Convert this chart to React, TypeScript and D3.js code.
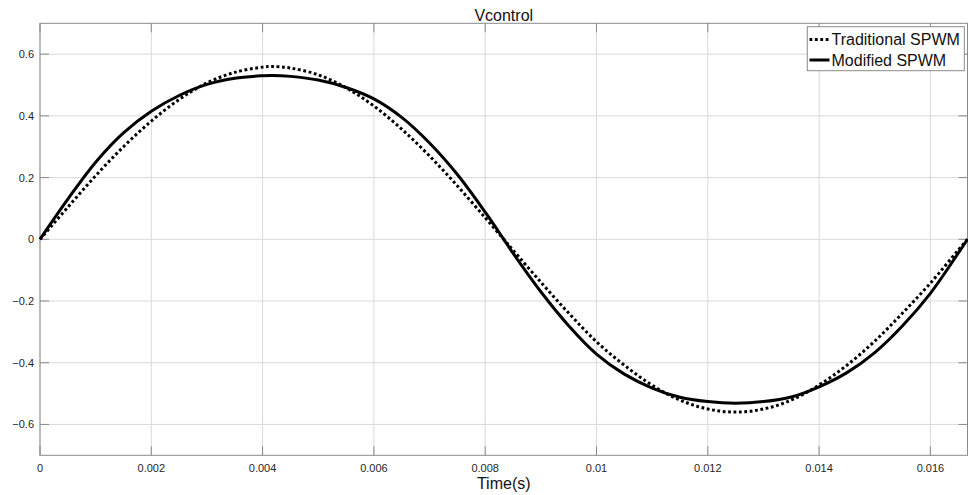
import React from "react";
import * as d3 from "d3";

const timeS = [0, 0.0005, 0.001, 0.0015, 0.002, 0.0025, 0.003, 0.0035, 0.004, 0.004167, 0.0045, 0.005, 0.0055, 0.006, 0.0065, 0.007, 0.0075, 0.008, 0.008333, 0.0085, 0.009, 0.0095, 0.01, 0.0105, 0.011, 0.0115, 0.012, 0.0125, 0.013, 0.0135, 0.014, 0.0145, 0.015, 0.0155, 0.016, 0.0165, 0.016667];
const traditional = [0, 0.104, 0.206, 0.3, 0.383, 0.453, 0.507, 0.541, 0.558, 0.56, 0.555, 0.533, 0.491, 0.432, 0.357, 0.27, 0.173, 0.07, 0, -0.035, -0.139, -0.239, -0.332, -0.408, -0.473, -0.521, -0.55, -0.56, -0.55, -0.521, -0.472, -0.408, -0.33, -0.239, -0.142, -0.035, 0];
const modified = [0, 0.13, 0.25, 0.345, 0.415, 0.466, 0.502, 0.522, 0.53, 0.531, 0.528, 0.516, 0.492, 0.455, 0.395, 0.312, 0.21, 0.088, 0, -0.045, -0.17, -0.28, -0.372, -0.437, -0.482, -0.512, -0.526, -0.531, -0.526, -0.511, -0.478, -0.432, -0.367, -0.28, -0.175, -0.045, 0];
const xTicks = [0, 0.002, 0.004, 0.006, 0.008, 0.01, 0.012, 0.014, 0.016];
const xTickLabels = ["0", "0.002", "0.004", "0.006", "0.008", "0.01", "0.012", "0.014", "0.016"];
const yTicks = [-0.6, -0.4, -0.2, 0, 0.2, 0.4, 0.6];
const yTickLabels = ["\u22120.6", "\u22120.4", "\u22120.2", "0", "0.2", "0.4", "0.6"];
const seriesNames = ["Traditional SPWM", "Modified SPWM"];

const W = 968;
const H = 495;
const L = 40;
const R = 967.5;
const T = 23.3;
const B = 455.3;
const FONT = "'Liberation Sans', Arial, Helvetica, sans-serif";

export default function App() {
  const x = d3.scaleLinear().domain([0, 1 / 60]).range([L, R]);
  const y = d3.scaleLinear().domain([-0.7, 0.7]).range([B, T]);
  const line = d3
    .line<number>()
    .x((_, i) => x(timeS[i]))
    .y((d) => y(d))
    .curve(d3.curveCatmullRom.alpha(0.5));
  const cx = (L + R) / 2;
  const tickLen = 9;
  return (
    <svg width={W} height={H} style={{ display: "block", position: "absolute", left: 0, top: 0, background: "#fff" }}>
      <rect x={0} y={0} width={W} height={H} fill="#fff" />
      <g>
        {xTicks.map((t, i) => (
          <line key={"gx" + i} x1={x(t)} x2={x(t)} y1={T} y2={B} stroke="#d9d9d9" strokeWidth={1} />
        ))}
        {yTicks.map((v, i) => (
          <line key={"gy" + i} x1={L} x2={R} y1={y(v)} y2={y(v)} stroke="#d9d9d9" strokeWidth={1} />
        ))}
      </g>
      <g stroke="#8a8a8a" strokeWidth={1}>
        {xTicks.map((t, i) => (
          <g key={"tx" + i}>
            <line x1={x(t)} x2={x(t)} y1={B} y2={B - tickLen} />
            <line x1={x(t)} x2={x(t)} y1={T} y2={T + tickLen} />
          </g>
        ))}
        {yTicks.map((v, i) => (
          <g key={"ty" + i}>
            <line x1={L} x2={L + tickLen} y1={y(v)} y2={y(v)} />
            <line x1={R} x2={R - tickLen} y1={y(v)} y2={y(v)} />
          </g>
        ))}
      </g>
      <rect x={L} y={T} width={R - L} height={B - T} fill="none" stroke="#8a8a8a" strokeWidth={1} />
      <g fontFamily={FONT} fontSize={11} fill="#262626">
        {xTicks.map((t, i) => (
          <text key={"lx" + i} x={x(t)} y={471.5} textAnchor="middle">
            {xTickLabels[i]}
          </text>
        ))}
        {yTicks.map((v, i) => (
          <text key={"ly" + i} x={L - 6} y={y(v) + 4} textAnchor="end">
            {yTickLabels[i]}
          </text>
        ))}
      </g>
      <path d={line(modified) || ""} fill="none" stroke="#000" strokeWidth={3} />
      <path d={line(traditional) || ""} fill="none" stroke="#000" strokeWidth={3} strokeDasharray="2.8,2.6" />
      <text x={cx} y={20.5} textAnchor="middle" fontFamily={FONT} fontSize={16} fill="#111">
        Vcontrol
      </text>
      <text x={cx} y={489} textAnchor="middle" fontFamily={FONT} fontSize={16} fill="#111">
        Time(s)
      </text>
      <g>
        <rect x={807.3} y={26.7} width={157} height={44} fill="#fff" stroke="#8a8a8a" strokeWidth={1} />
        <line x1={809.5} x2={829.5} y1={39.5} y2={39.5} stroke="#000" strokeWidth={3} strokeDasharray="2.8,2.6" />
        <line x1={809.5} x2={829.5} y1={60} y2={60} stroke="#000" strokeWidth={3} />
        <text x={831.5} y={45} fontFamily={FONT} fontSize={16} fill="#111">
          {seriesNames[0]}
        </text>
        <text x={831.5} y={65.7} fontFamily={FONT} fontSize={16} fill="#111">
          {seriesNames[1]}
        </text>
      </g>
    </svg>
  );
}
